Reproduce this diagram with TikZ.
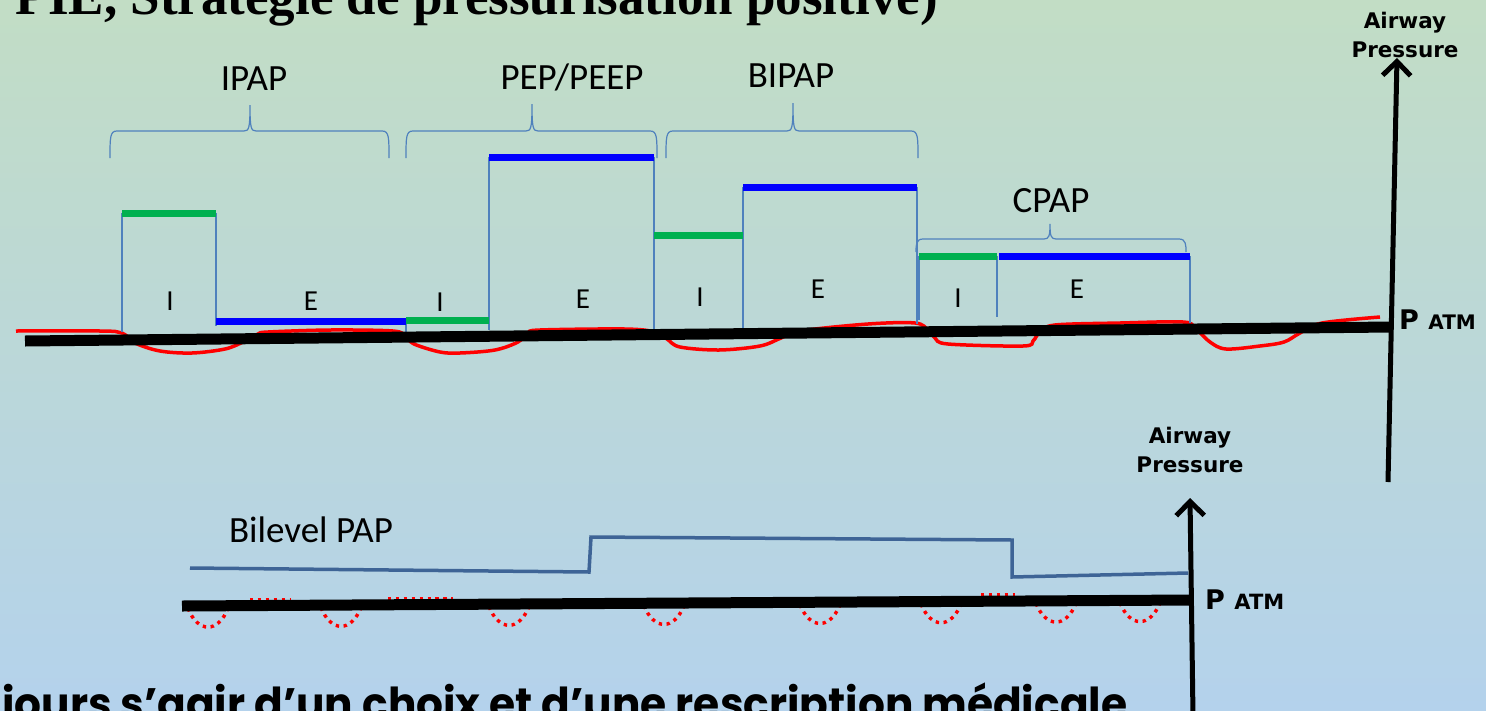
\documentclass[tikz,border=0pt]{standalone}
\usepackage{fontspec}
\usepackage{graphicx}
\setmainfont{Liberation Serif}
\newfontfamily\lblfont{Carlito}
\newfontfamily\axfont{DejaVu Sans}
\newfontfamily\notefont{Poppins}
\usetikzlibrary{arrows.meta}

\definecolor{bgtop}{RGB}{194,221,197}
\definecolor{bgbot}{RGB}{180,210,236}
\definecolor{frame}{RGB}{79,129,189}
\definecolor{insp}{RGB}{0,176,80}
\definecolor{expi}{RGB}{0,0,255}
\definecolor{flow}{RGB}{255,0,0}
\definecolor{bilevel}{RGB}{62,100,150}

% curly bracket: left x, right x, tip x, bar y, end y, tip y
\newcommand\curlybracket[6]{%
  \draw[bracketline] (#1,#5) .. controls (#1,#4+6) and (#1,#4) .. (#1+7,#4)
    -- (#3-6,#4) .. controls (#3-1,#4) and (#3,#4-3) .. (#3,#6)
    .. controls (#3,#4-3) and (#3+1,#4) .. (#3+6,#4)
    -- (#2-7,#4) .. controls (#2,#4) and (#2,#4+6) .. (#2,#5);}

\begin{document}
\begin{tikzpicture}[x=1pt,y=-1pt,
  frameline/.style={draw=frame,line width=1.3pt},
  bracketline/.style={draw=frame,line width=1.2pt},
  phasebar/.style={line width=7pt},
  ibar/.style={phasebar,draw=insp},
  ebar/.style={phasebar,draw=expi},
  zeroline/.style={line width=11pt,draw=black},
  axisline/.style={line width=5pt,draw=black,-{Straight Barb[length=14pt,width=28pt]}},
  flowline/.style={draw=flow,line width=3.5pt},
  flowdots/.style={draw=flow,line width=3.4pt,dash pattern=on 3.4pt off 4.5pt},
  levelline/.style={draw=bilevel,line width=3.5pt},
  lbl/.style={font=\lblfont\fontsize{37}{42}\selectfont,inner sep=0pt,anchor=base},
  phase/.style={font=\lblfont\fontsize{29}{34}\selectfont,inner sep=0pt,anchor=base},
  axlbl/.style={font=\axfont\bfseries\fontsize{21.5}{29}\selectfont,align=center,inner sep=0pt,anchor=north},
  patm/.style={font=\axfont\bfseries\fontsize{27}{30}\selectfont,inner sep=0pt,anchor=base west},
]
\clip (0,0) rectangle (1486,710);
\shade[top color=bgtop,bottom color=bgbot] (0,0) rectangle (1486,710);

% heading and footer lines running off the page
\node[anchor=base east,inner sep=0pt,font=\bfseries\fontsize{53}{60}\selectfont] (title) at (938,14)
  {PIE, Stratégie de pressurisation positive)};
\node[anchor=base west,inner sep=0pt,font=\notefont\bfseries\fontsize{44}{48}\selectfont] (note) at (2,719)
  {\resizebox{1125pt}{\height}{jours s’agir d’un choix et d’une rescription médicale}};

% ---------- upper chart ----------
% spontaneous breathing around atmospheric pressure
\draw[flowline] plot[smooth,tension=0.55] coordinates {
  (16,331) (100,331) (122,333) (135,343) (160,351) (192,353) (225,349) (243,342)
  (258,334) (268,332) (330,330) (393,331) (405,336) (414,344) (440,352) (460,353)
  (495,350) (518,342) (528,333) (540,330) (625,329) (655,332) (667,339) (680,347)
  (719,350) (760,346) (781,338) (800,331) (868,324) (915,323) (928,330) (935,338)
  (948,344) (1023,346) (1033,341) (1040,332) (1055,325) (1120,323) (1183,322)
  (1195,328) (1210,342) (1226,349) (1260,346) (1284,342) (1300,333) (1322,323) (1380,317)};

% pressure frames
\draw[frameline] (122,332) -- (122,213);
\draw[frameline] (216,213) -- (216,326);
\draw[frameline] (406,320) -- (406,338);
\draw[frameline] (489,330) -- (489,157);
\draw[frameline] (654,157) -- (654,330);
\draw[frameline] (743,328) -- (743,187);
\draw[frameline] (917,187) -- (917,324);
\draw[frameline] (919,320) -- (919,256);
\draw[frameline] (997,256) -- (997,317);
\draw[frameline] (1190,256) -- (1190,323);

% inspiratory (green) and expiratory (blue) levels
\draw[ibar] (122,213) -- (216,213);
\draw[ebar] (216,321) -- (406,321);
\draw[ibar] (406,320) -- (489,320);
\draw[ebar] (489,157) -- (654,157);
\draw[ibar] (654,235) -- (743,235);
\draw[ebar] (743,187) -- (917,187);
\draw[ibar] (919,256) -- (997,256);
\draw[ebar] (999,256) -- (1190,256);

% phase letters
\node[phase] (i1) at (170,310) {I};
\node[phase] (e1) at (311,310) {E};
\node[phase] (i2) at (440,311) {I};
\node[phase] (e2) at (583,308) {E};
\node[phase] (i3) at (700,306) {I};
\node[phase] (e3) at (818,298) {E};
\node[phase] (i4) at (958,307) {I};
\node[phase] (e4) at (1077,298) {E};

% mode brackets and names
\curlybracket{110}{389}{250}{131}{158}{105}
\curlybracket{406}{657}{532}{131}{158}{104}
\curlybracket{666}{918}{793}{131}{158}{103}
\curlybracket{916}{1186}{1050}{239}{252}{224}
\node[lbl] (ipap) at (254,90) {IPAP};
\node[lbl] (peep) at (572,89) {PEP/PEEP};
\node[lbl] (bipap) at (791,87) {BIPAP};
\node[lbl] (cpap) at (1051,212) {CPAP};

% axes
\coordinate (z0) at (25,341);
\coordinate (z1) at (1392,327);
\draw[zeroline] (z0) -- (z1);
\coordinate (p0) at (1388,482);
\coordinate (p1) at (1397,58);
\draw[axisline] (p0) -- (p1);
\node[axlbl] (ap1) at (1405,12) {Airway\\Pressure};
\node[patm] (patm1) at (1399,329) {P {\fontsize{20}{24}\selectfont ATM}};

% ---------- lower chart ----------
\foreach \c in {208,341,509,664,820,941,1056,1140}{
  \pgfmathsetmacro\yb{611.5-6*(\c-182)/1010}
  \draw[flowdots] (\c-20,\yb-3) .. controls (\c-10,\yb+22) and (\c+10,\yb+22) .. (\c+20,\yb-3);
}
\draw[flowdots] (250,600) -- (290,600);
\draw[flowdots] (388,599) -- (453,599);
\draw[flowdots] (981,595) -- (1015,595);

\draw[levelline] (190,568) -- (589,572) -- (591,537) -- (1012,540) -- (1012,577) -- (1188,573);
\node[lbl] (bilevel) at (311,542) {Bilevel PAP};

\coordinate (w0) at (182,606);
\coordinate (w1) at (1192,600);
\draw[zeroline] (w0) -- (w1);
\coordinate (q0) at (1193,716);
\coordinate (q1) at (1190,498);
\draw[axisline] (q0) -- (q1);
\node[axlbl] (ap2) at (1190,427) {Airway\\Pressure};
\node[patm] (patm2) at (1205,609) {P {\fontsize{21}{24}\selectfont ATM}};
\end{tikzpicture}
\end{document}
